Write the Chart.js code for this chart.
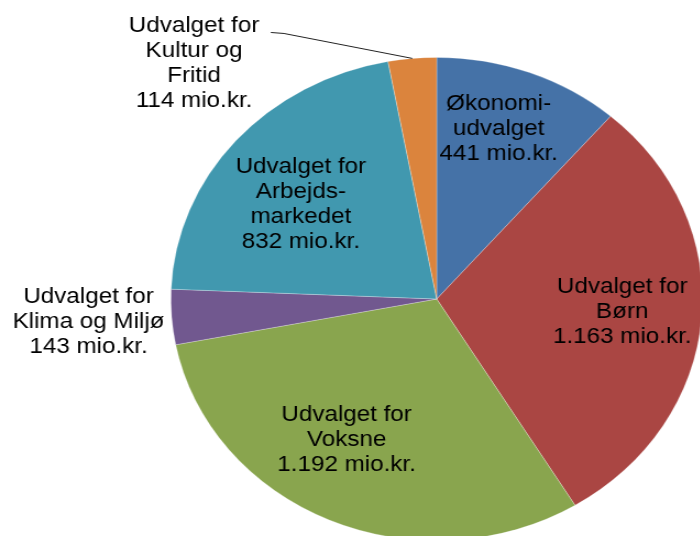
<!DOCTYPE html>
<html>
<head>
<meta charset="utf-8">
<script src="https://cdn.jsdelivr.net/npm/chart.js@4"></script>
<style>
  html, body { margin: 0; padding: 0; background: #fff; overflow: hidden; width: 700px; height: 536px; }
  /* the original picture is stretched a little sideways, so the whole chart is too */
  #wrap { position: absolute; left: 0; top: 0; width: 640px; height: 560px; transform: scaleX(1.1); transform-origin: 0 0; }
</style>
</head>
<body>
<div id="wrap"><canvas id="budgetChart"></canvas></div>
<script>
  const names = [
    ['Økonomi-', 'udvalget'],
    ['Udvalget for', 'Børn'],
    ['Udvalget for', 'Voksne'],
    ['Udvalget for', 'Klima og Miljø'],
    ['Udvalget for', 'Arbejds-', 'markedet'],
    ['Udvalget for', 'Kultur og', 'Fritid']
  ];
  const amounts = [441, 1163, 1192, 143, 832, 114];
  const colors = ['#4572A7', '#AA4643', '#89A54E', '#71588F', '#4198AF', '#DB843D'];

  // label centres, as fractions of the radius from the pie centre
  const labelPos = [
    [0.233, -0.702],
    [0.698, 0.054],
    [-0.339, 0.583],
    [-1.31, 0.095],
    [-0.511, -0.390],
    [-0.913, -0.975]
  ];

  function fmt(v) {
    return String(v).replace(/\B(?=(\d{3})+(?!\d))/g, '.') + ' mio.kr.';
  }

  const labelPlugin = {
    id: 'sliceLabels',
    afterDraw(chart) {
      const ctx = chart.ctx;
      const arcs = chart.getDatasetMeta(0).data;
      const cx = arcs[0].x, cy = arcs[0].y, r = arcs[0].outerRadius;
      const lh = 25;
      ctx.save();
      ctx.fillStyle = '#000';
      ctx.font = '22px "Liberation Sans", Arial, sans-serif';
      ctx.textAlign = 'center';
      ctx.textBaseline = 'middle';
      names.forEach((n, i) => {
        const lines = n.concat([fmt(amounts[i])]);
        const x = cx + labelPos[i][0] * r;
        const y0 = cy + labelPos[i][1] * r - (lines.length - 1) * lh / 2;
        lines.forEach((t, k) => ctx.fillText(t, x, y0 + k * lh));
      });

      // leader line for the small Kultur slice
      const a = arcs[5];
      const mid = (a.startAngle + a.endAngle) / 2;
      ctx.strokeStyle = '#222';
      ctx.lineWidth = 1;
      ctx.beginPath();
      ctx.moveTo(cx - 0.624 * r, cy - 1.103 * r);
      ctx.lineTo(cx - 0.575 * r, cy - 1.099 * r);
      ctx.lineTo(cx + Math.cos(mid) * r, cy + Math.sin(mid) * r);
      ctx.stroke();
      ctx.restore();
    }
  };

  const ctx = document.getElementById('budgetChart').getContext('2d');
  new Chart(ctx, {
    type: 'pie',
    data: {
      labels: names.map(n => n.join(' ')),
      datasets: [{
        data: amounts,
        backgroundColor: colors,
        borderColor: 'rgba(255,255,255,0.35)',
        borderWidth: 0.75
      }]
    },
    options: {
      responsive: true,
      maintainAspectRatio: false,
      animation: false,
      layout: {
        padding: { left: 155, right: 1, top: 57, bottom: 19 }
      },
      plugins: {
        legend: { display: false },
        tooltip: { enabled: false }
      }
    },
    plugins: [labelPlugin]
  });
</script>
</body>
</html>
